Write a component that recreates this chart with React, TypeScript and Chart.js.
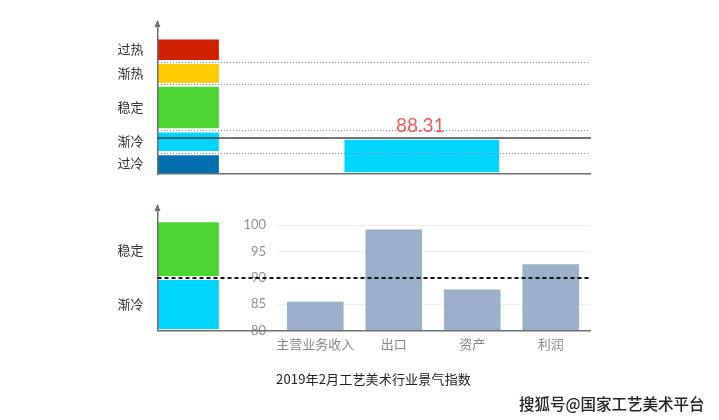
import { useEffect, useRef } from "react";
import { Chart, registerables } from "chart.js";

Chart.register(...registerables);

const WIDTH = 719;
const HEIGHT = 420;
const CJK = '"Noto Sans CJK SC", sans-serif';
const NUM = 'Lato, "Open Sans", sans-serif';
const AXIS_COLOR = "#6f6f6f";

// upper panel: climate bands
const topBandNames = ["过热", "渐热", "稳定", "渐冷", "过冷"];
const topBandRanges = [[105, 110.4], [100, 105], [90, 100], [85, 90], [80, 85]];
const topBandColors = ["#D12000", "#FFCC00", "#4CD433", "#00D5FF", "#0070B0"];
const topBandLabelAt = [107.9, 102.6, 95, 87.7, 82.7];
const topThresholds = [85, 90, 100, 105];
const overallIndex = 88.31;

// lower panel: the two bands the sectors fall in
const lowBandNames = ["稳定", "渐冷"];
const lowBandRanges = [[90, 101], [79.9, 90]];
const lowBandColors = ["#4CD433", "#00D5FF"];
const lowBandLabelAt = [95.4, 85];
const neutralLine = 90;

// lower panel: sector values
const sectors = ["主营业务收入", "出口", "资产", "利润"];
const sectorValues = [85.4, 99.1, 87.7, 92.5];

const titleText = "2019年2月工艺美术行业景气指数";
const watermarkText = "搜狐号@国家工艺美术平台";

const bandSlots = ["", "", "", "", "", "", ""];
const valueSlots = ["", "", "", "", "", "当月", "", "", ""];

// small arrow on top of the vertical axis
const axisArrow = {
  id: "axisArrow",
  afterDraw(chart: any) {
    const { ctx, chartArea } = chart;
    ctx.save();
    ctx.fillStyle = AXIS_COLOR;
    ctx.beginPath();
    ctx.moveTo(chartArea.left, chartArea.top - 2);
    ctx.lineTo(chartArea.left - 3, chartArea.top + 5);
    ctx.lineTo(chartArea.left + 3, chartArea.top + 5);
    ctx.closePath();
    ctx.fill();
    ctx.restore();
  },
};

// horizontal reference line, read through the y scale
const refLine = {
  id: "refLine",
  afterDraw(chart: any, _args: any, opts: any) {
    if (opts.value == null) return;
    const { ctx, chartArea, scales } = chart;
    const y = scales.y.getPixelForValue(opts.value);
    ctx.save();
    ctx.strokeStyle = opts.color;
    ctx.lineWidth = opts.width;
    ctx.setLineDash(opts.dash || []);
    ctx.beginPath();
    ctx.moveTo(chartArea.left, y);
    ctx.lineTo(chartArea.right + 1, y);
    ctx.stroke();
    ctx.restore();
  },
};

// the number above the cyan bar
const valueLabel = {
  id: "valueLabel",
  afterDraw(chart: any, _args: any, opts: any) {
    if (opts.text == null) return;
    const bar = chart.getDatasetMeta(opts.dataset).data[opts.index];
    const { ctx } = chart;
    ctx.save();
    ctx.fillStyle = "#F0585A";
    ctx.font = `400 19px ${NUM}`;
    ctx.textAlign = "center";
    ctx.textBaseline = "middle";
    ctx.fillText(opts.text, bar.x - 1.5, bar.y - 12);
    ctx.restore();
  },
};

const zeroHeight = (scale: any) => {
  scale.height = 0;
};

function bandChartConfig(p: {
  top: number;
  bottom: number;
  min: number;
  max: number;
  names: string[];
  ranges: number[][];
  colors: string[];
  labelAt: number[];
  thresholds: number[];
  extraDatasets?: any[];
  plugins: any;
}) {
  const datasets: any[] = p.ranges.map((r, i) => ({
    label: p.names[i],
    data: [r],
    xAxisID: "xBand",
    yAxisID: "y",
    backgroundColor: p.colors[i],
    borderColor: "#ffffff",
    borderWidth: { top: 2.4, bottom: 2.4, left: 0, right: 0 },
    borderSkipped: false,
    barThickness: 61,
    grouped: false,
  }));
  return {
    type: "bar" as const,
    data: { datasets: [...datasets, ...(p.extraDatasets || [])] },
    plugins: [axisArrow, refLine, valueLabel],
    options: {
      responsive: false,
      animation: false as const,
      layout: { padding: { left: 0, right: 129, top: p.top, bottom: HEIGHT - p.bottom } },
      plugins: { legend: { display: false }, tooltip: { enabled: false }, ...p.plugins },
      scales: {
        xBand: {
          type: "category" as const,
          position: "bottom" as const,
          labels: bandSlots,
          ticks: { display: false },
          grid: { display: false },
          border: { display: true, color: AXIS_COLOR, width: 1.5, z: 2 },
          afterFit: zeroHeight,
        },
        xValue: {
          type: "category" as const,
          position: "bottom" as const,
          labels: valueSlots,
          display: true,
          ticks: { display: false },
          grid: { display: false },
          border: { display: false },
          afterFit: zeroHeight,
        },
        y: {
          type: "linear" as const,
          position: "left" as const,
          min: p.min,
          max: p.max,
          ticks: { display: false },
          grid: {
            display: p.thresholds.length > 0,
            color: "#888888",
            lineWidth: 1,
            drawTicks: false,
            z: 1,
          },
          border: { display: false, dash: [1, 2] },
          afterBuildTicks: (scale: any) => {
            scale.ticks = p.thresholds.map((value) => ({ value }));
          },
          afterFit: (scale: any) => {
            scale.width = 0;
          },
        },
        yLabel: {
          type: "linear" as const,
          position: "left" as const,
          min: p.min,
          max: p.max,
          grid: { display: false, drawTicks: false },
          border: { display: true, color: AXIS_COLOR, width: 1.5, z: 2 },
          ticks: {
            autoSkip: false,
            padding: 14,
            color: "#333333",
            font: { family: CJK, size: 13 },
            callback: (_v: any, i: number) => p.names[i],
          },
          afterBuildTicks: (scale: any) => {
            scale.ticks = p.labelAt.map((value) => ({ value }));
          },
          afterFit: (scale: any) => {
            scale.width = 157.5;
          },
        },
      },
    },
  };
}

function useChart(makeConfig: () => any) {
  const ref = useRef<HTMLCanvasElement>(null);
  useEffect(() => {
    if (!ref.current) return;
    const chart = new Chart(ref.current, makeConfig());
    return () => chart.destroy();
  }, []);
  return ref;
}

const canvasStyle: React.CSSProperties = { position: "absolute", left: 0, top: 0 };

export default function App() {
  const topRef = useChart(() =>
    bandChartConfig({
      top: 22,
      bottom: 174,
      min: 80.4,
      max: 113.8,
      names: topBandNames,
      ranges: topBandRanges,
      colors: topBandColors,
      labelAt: topBandLabelAt,
      thresholds: topThresholds,
      extraDatasets: [
        {
          label: "当月",
          data: [null, null, null, null, null, [80.4, overallIndex]],
          xAxisID: "xValue",
          yAxisID: "y",
          backgroundColor: "#00D5FF",
          borderColor: "#ffffff",
          borderWidth: 2,
          borderSkipped: false,
          barThickness: 158,
          grouped: false,
        },
      ],
      plugins: {
        refLine: { value: overallIndex, color: "#444444", width: 1.5 },
        valueLabel: { text: String(overallIndex), dataset: 5, index: 5 },
      },
    })
  );

  const sectorRef = useChart(() => ({
    type: "bar",
    data: {
      labels: sectors,
      datasets: [
        {
          label: "景气指数",
          data: sectorValues,
          backgroundColor: "#9AB0C9",
          barThickness: 56,
        },
      ],
    },
    options: {
      responsive: false,
      animation: false,
      layout: { padding: { left: 0, right: 129, top: 225, bottom: 0 } },
      plugins: { legend: { display: false }, tooltip: { enabled: false } },
      scales: {
        x: {
          grid: { display: false, drawTicks: false },
          border: { display: false },
          ticks: {
            autoSkip: false,
            maxRotation: 0,
            padding: 6,
            color: "#888888",
            font: { family: CJK, size: 13 },
          },
          // the title and watermark sit under the axis, so its box is fixed
          afterFit: (scale: any) => {
            scale.height = HEIGHT - 330.5;
          },
        },
        y: {
          min: 80,
          max: 100,
          grid: { color: "#ececec", lineWidth: 1, drawTicks: false },
          border: { display: false },
          ticks: {
            stepSize: 5,
            padding: 10,
            color: "#8f8f8f",
            font: { family: NUM, size: 13, weight: "400" },
          },
          afterFit: (scale: any) => {
            scale.width = 276;
          },
        },
      },
    },
  }));

  const lowRef = useChart(() =>
    bandChartConfig({
      top: 206,
      bottom: 330.5,
      min: 80,
      max: 103.7,
      names: lowBandNames,
      ranges: lowBandRanges,
      colors: lowBandColors,
      labelAt: lowBandLabelAt,
      thresholds: [],
      plugins: {
        refLine: { value: neutralLine, color: "#111111", width: 2, dash: [4, 3] },
        valueLabel: {},
      },
    })
  );

  return (
    <div
      style={{
        position: "absolute",
        left: 0,
        top: 0,
        width: WIDTH,
        height: HEIGHT,
        overflow: "hidden",
        background: "#ffffff",
      }}
    >
      <canvas ref={topRef} width={WIDTH} height={HEIGHT} style={canvasStyle} />
      <canvas ref={sectorRef} width={WIDTH} height={HEIGHT} style={canvasStyle} />
      <canvas ref={lowRef} width={WIDTH} height={HEIGHT} style={canvasStyle} />
      <div
        style={{
          position: "absolute",
          left: 276,
          top: 370,
          fontFamily: CJK,
          fontSize: 13,
          letterSpacing: 0.17,
          lineHeight: "18px",
          color: "#222222",
          whiteSpace: "nowrap",
        }}
      >
        {titleText}
      </div>
      <div
        style={{
          position: "absolute",
          left: 519,
          top: 393,
          fontFamily: CJK,
          fontSize: 15.5,
          lineHeight: "20px",
          fontWeight: 500,
          color: "#222222",
          whiteSpace: "nowrap",
          textShadow: "0 0 2px #ffffff, 0 0 2px #ffffff",
        }}
      >
        {watermarkText}
      </div>
    </div>
  );
}
